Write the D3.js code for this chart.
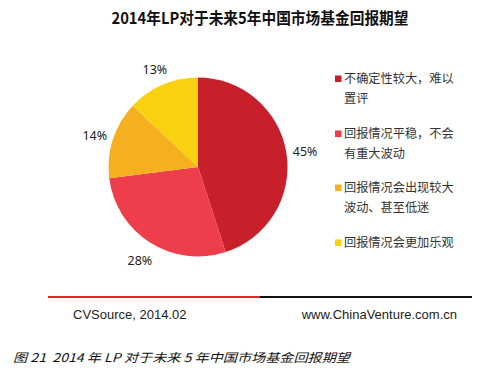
<!DOCTYPE html>
<html><head><meta charset="utf-8">
<script src="https://cdn.jsdelivr.net/npm/d3@7"></script>
<style>
html,body{margin:0;padding:0;background:#fff;}
svg{display:block;}
</style></head>
<body>
<svg id="c" width="504" height="383"></svg>
<script>
const title = "2014年LP对于未来5年中国市场基金回报期望";
const categories = ["不确定性较大，难以置评", "回报情况平稳，不会有重大波动", "回报情况会出现较大波动、甚至低迷", "回报情况会更加乐观"];
const legendLines = [["不确定性较大，难以", "置评"], ["回报情况平稳，不会", "有重大波动"], ["回报情况会出现较大", "波动、甚至低迷"], ["回报情况会更加乐观"]];
const values = [45, 28, 14, 13];
const labels = ["45%", "28%", "14%", "13%"];
const colors = ["#C8202B", "#EE3D4B", "#F6AF1E", "#F8D20E"];
const sourceText = "CVSource, 2014.02";
const siteText = "www.ChinaVenture.com.cn";
const caption = "图 21  2014 年 LP 对于未来 5 年中国市场基金回报期望";

const svg = d3.select("#c");
const cjk = "'Noto Sans CJK SC', 'Microsoft YaHei', sans-serif";

svg.append("text").attr("x", 260).attr("y", 24).attr("text-anchor", "middle")
  .attr("font-family", cjk).attr("font-weight", "bold").attr("font-size", 16)
  .attr("fill", "#111").attr("textLength", 297).attr("lengthAdjust", "spacingAndGlyphs").text(title);

const cx = 198, cy = 167, r = 89.5;
const pie = d3.pie().sort(null).value(d => d);
const arcs = pie(values);
const arc = d3.arc().innerRadius(0).outerRadius(r);
const labelArc = d3.arc().innerRadius(r + 19).outerRadius(r + 19);
const g = svg.append("g").attr("transform", `translate(${cx},${cy})`);
g.selectAll("path").data(arcs).join("path")
  .attr("d", arc).attr("fill", (d, i) => colors[i]);
g.selectAll("text").data(arcs).join("text")
  .attr("transform", d => { const c = labelArc.centroid(d); return `translate(${c[0]},${c[1] + 2})`; })
  .attr("text-anchor", "middle").attr("dy", "0.35em")
  .attr("font-family", "'Noto Sans', 'Open Sans', sans-serif").attr("font-size", 12.5).attr("fill", "#222")
  .text((d, i) => labels[i]);

const legendY = [79, 134, 188, 243];
const lg = svg.append("g");
legendLines.forEach((lines, i) => {
  lg.append("rect").attr("x", 335).attr("y", legendY[i] - 3.5).attr("width", 6.5).attr("height", 6.5).attr("fill", colors[i]);
  lines.forEach((t, j) => {
    lg.append("text").attr("x", 344).attr("y", legendY[i] + j * 20).attr("dy", "0.35em")
      .attr("font-family", cjk).attr("font-size", 12.2).attr("fill", "#333").text(t);
  });
});

svg.append("line").attr("x1", 48).attr("x2", 260).attr("y1", 297).attr("y2", 297).attr("stroke", "#E8242B").attr("stroke-width", 2);
svg.append("line").attr("x1", 260).attr("x2", 472).attr("y1", 297).attr("y2", 297).attr("stroke", "#111").attr("stroke-width", 2);

svg.append("text").attr("x", 73).attr("y", 319).attr("font-family", "'Liberation Sans', Arial, sans-serif")
  .attr("font-size", 13).attr("fill", "#222").text(sourceText);
svg.append("text").attr("x", 457).attr("y", 319).attr("text-anchor", "end").attr("font-family", "'Liberation Sans', Arial, sans-serif")
  .attr("font-size", 13).attr("fill", "#222").text(siteText);

svg.append("text").attr("x", 13).attr("y", 362).attr("font-family", cjk).attr("font-style", "italic")
  .attr("font-size", 12).attr("fill", "#111").attr("textLength", 337).attr("lengthAdjust", "spacingAndGlyphs")
  .style("white-space", "pre").text(caption);
</script>
</body></html>
